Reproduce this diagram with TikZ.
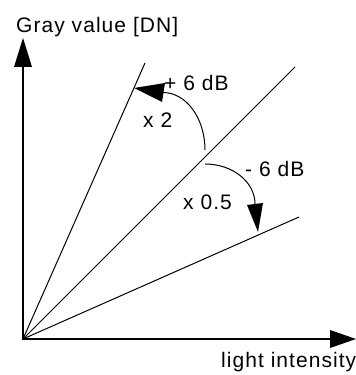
\documentclass[tikz,border=0pt]{standalone}
\usepackage{fontspec}
\setmainfont{Liberation Sans}[LetterSpace=5]
\begin{document}
\begin{tikzpicture}[x=1pt,y=1pt,
  axis/.style={line width=2.5pt, line join=miter},
  ray/.style={line width=1pt},
  head/.style={fill=black},
  lbl/.style={anchor=base west, inner sep=0pt, font=\fontsize{21}{25}\selectfont}]
\useasboundingbox (0,0) rectangle (356,375);
% axes
\coordinate (O) at (23,36);
\coordinate (ytip) at (23,337);
\coordinate (ybase) at (23,308);
\coordinate (xtip) at (356,36);
\coordinate (xbase) at (330,36);
\draw[axis] (ybase) -- (O) -- (xbase);
\fill[head] (ytip) -- (14,308) -- (32,308) -- cycle;
\fill[head] (xtip) -- (330,45) -- (330,27) -- cycle;
% rays
\coordinate (steep) at (145,312);
\coordinate (diag) at (295,308);
\coordinate (shallow) at (299,158);
\draw[ray] (O) -- (steep);
\draw[ray] (O) -- (diag);
\draw[ray] (O) -- (shallow);
% upper arc (+6 dB)
\coordinate (ua) at (205,225);
\draw[ray] (ua) arc[start angle=0,end angle=90,x radius=42,y radius=57.5];
\fill[head] (134,287) -- (165,292) -- (162,273) -- cycle;
% lower arc (-6 dB)
\coordinate (la) at (205,211);
\draw[ray] (la) arc[start angle=90,end angle=0,x radius=50,y radius=40];
\fill[head] (258,143) -- (247,170) -- (263,172) -- cycle;
% labels
\node[lbl] (ylab) at (16,342) {Gray value [DN]};
\node[lbl] (xlab) at (221,7) {light intensity};
\node[lbl] (plus) at (164,284) {+ 6 dB};
\node[lbl] (x2) at (143,247) {x 2};
\node[lbl] (minus) at (245,198) {- 6 dB};
\node[lbl] (x05) at (183,165) {x 0.5};
\end{tikzpicture}
\end{document}
